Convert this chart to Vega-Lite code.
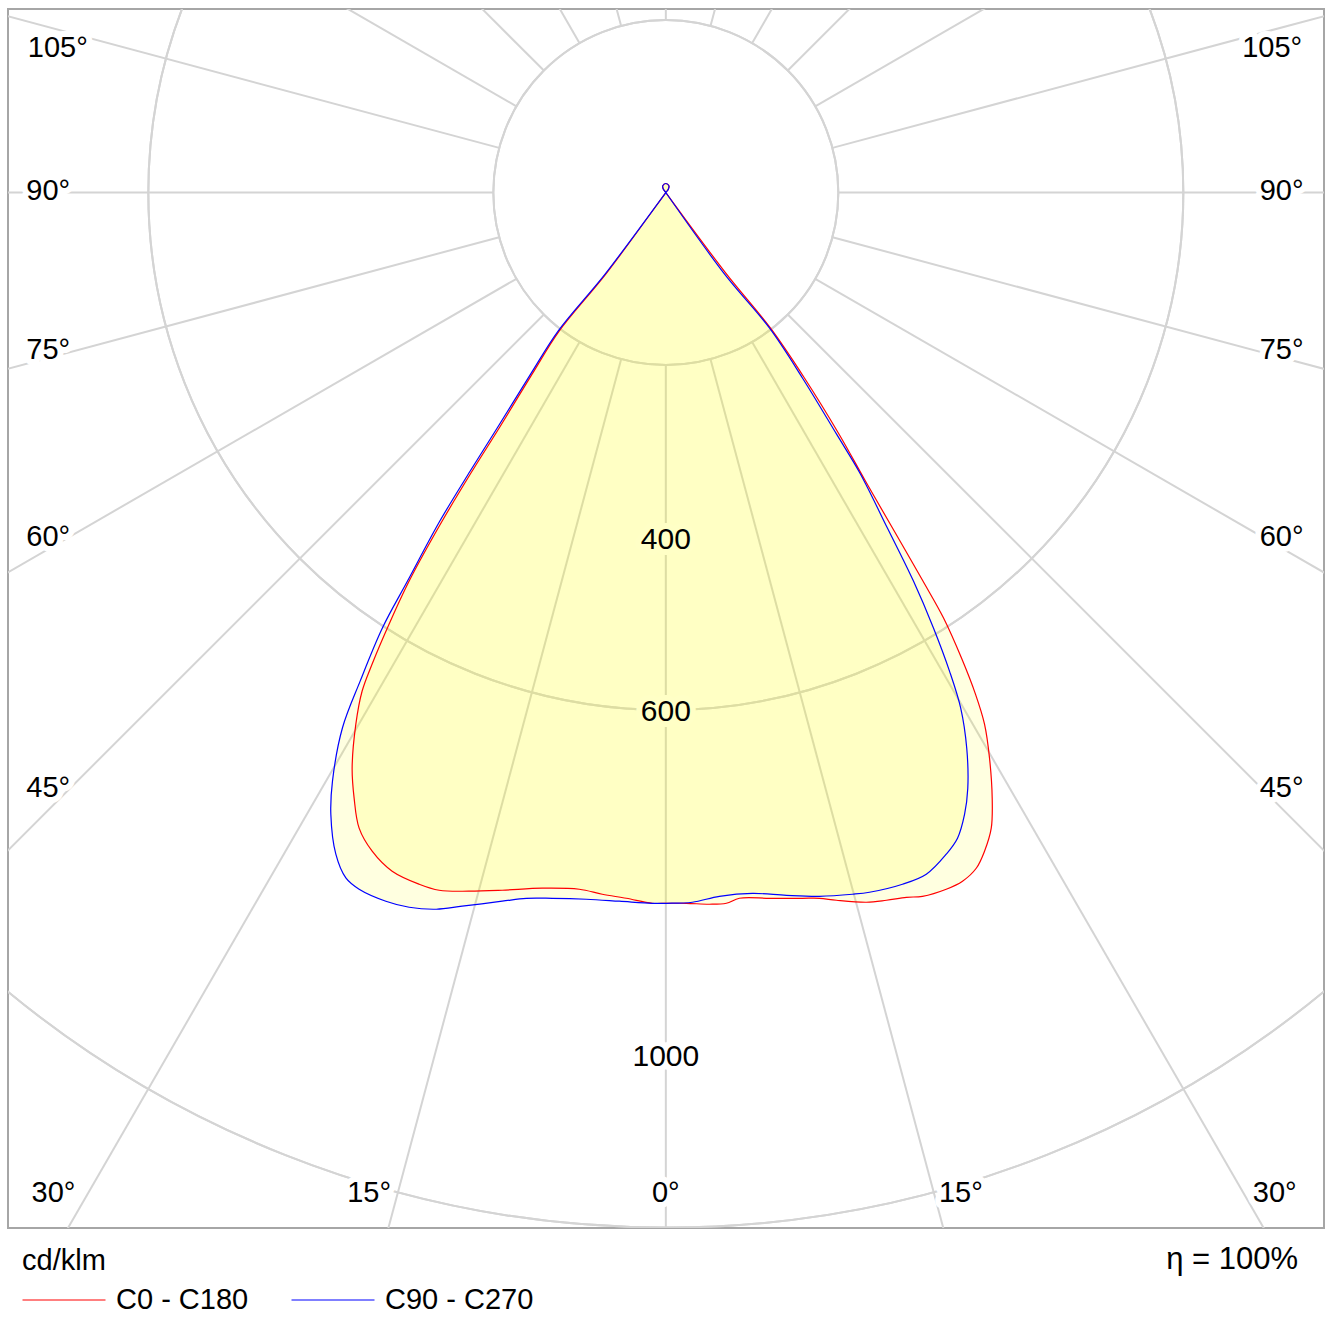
{
  "$schema": "https://vega.github.io/schema/vega-lite/v6.json",
  "width": 1316,
  "height": 1219,
  "autosize": {"type": "none"},
  "padding": {"left": 8, "top": 9, "right": 9, "bottom": 93},
  "background": "white",
  "datasets": {
    "rings": [
      {"r": 200}, {"r": 400}, {"r": 600}, {"r": 800}, {"r": 1000}, {"r": 1200}, {"r": 1400}, {"r": 1600}
    ],
    "spokes": [
      {"x": 0, "y": -200, "x2": 0, "y2": -2000},
      {"x": 51.8, "y": -193.2, "x2": 517.6, "y2": -1931.9},
      {"x": -51.8, "y": -193.2, "x2": -517.6, "y2": -1931.9},
      {"x": 100, "y": -173.2, "x2": 1000, "y2": -1732.1},
      {"x": -100, "y": -173.2, "x2": -1000, "y2": -1732.1},
      {"x": 141.4, "y": -141.4, "x2": 1414.2, "y2": -1414.2},
      {"x": -141.4, "y": -141.4, "x2": -1414.2, "y2": -1414.2},
      {"x": 173.2, "y": -100, "x2": 1732.1, "y2": -1000},
      {"x": -173.2, "y": -100, "x2": -1732.1, "y2": -1000},
      {"x": 193.2, "y": -51.8, "x2": 1931.9, "y2": -517.6},
      {"x": -193.2, "y": -51.8, "x2": -1931.9, "y2": -517.6},
      {"x": 200, "y": 0, "x2": 2000, "y2": 0},
      {"x": -200, "y": 0, "x2": -2000, "y2": 0},
      {"x": 193.2, "y": 51.8, "x2": 1931.9, "y2": 517.6},
      {"x": -193.2, "y": 51.8, "x2": -1931.9, "y2": 517.6},
      {"x": 173.2, "y": 100, "x2": 1732.1, "y2": 1000},
      {"x": -173.2, "y": 100, "x2": -1732.1, "y2": 1000},
      {"x": 141.4, "y": 141.4, "x2": 1414.2, "y2": 1414.2},
      {"x": -141.4, "y": 141.4, "x2": -1414.2, "y2": 1414.2},
      {"x": 100, "y": 173.2, "x2": 1000, "y2": 1732.1},
      {"x": -100, "y": 173.2, "x2": -1000, "y2": 1732.1},
      {"x": 51.8, "y": 193.2, "x2": 517.6, "y2": 1931.9},
      {"x": -51.8, "y": 193.2, "x2": -517.6, "y2": 1931.9},
      {"x": 0, "y": 200, "x2": 0, "y2": 2000}
    ],
    "angleLabels": [
      {"label": "105°", "x": -705, "y": 168},
      {"label": "90°", "x": -716, "y": 2},
      {"label": "75°", "x": -716, "y": -183},
      {"label": "60°", "x": -716, "y": -399},
      {"label": "45°", "x": -716, "y": -691},
      {"label": "30°", "x": -710, "y": -1160},
      {"label": "15°", "x": -344, "y": -1160},
      {"label": "0°", "x": 0, "y": -1160},
      {"label": "15°", "x": 342, "y": -1160},
      {"label": "30°", "x": 706, "y": -1160},
      {"label": "45°", "x": 714, "y": -691},
      {"label": "60°", "x": 714, "y": -399},
      {"label": "75°", "x": 714, "y": -183},
      {"label": "90°", "x": 714, "y": 2},
      {"label": "105°", "x": 703, "y": 168}
    ],
    "innerRingLabels": [
      {"label": "400", "x": 0, "y": -403},
      {"label": "600", "x": 0, "y": -602}
    ],
    "outerRingLabels": [
      {"label": "1000", "x": 0, "y": -1002}
    ],
    "notes": [
      {"label": "η = 100%", "x": 733, "y": -1238}
    ],
    "curves": [
      {"series": "C0 - C180", "i": 0, "x": 0, "y": 0},
      {"series": "C0 - C180", "i": 1, "x": -3, "y": 4},
      {"series": "C0 - C180", "i": 2, "x": -3.5, "y": 8},
      {"series": "C0 - C180", "i": 3, "x": 0, "y": 10.5},
      {"series": "C0 - C180", "i": 4, "x": 3.5, "y": 8},
      {"series": "C0 - C180", "i": 5, "x": 3, "y": 4},
      {"series": "C0 - C180", "i": 6, "x": 0, "y": 0},
      {"series": "C0 - C180", "i": 7, "x": -69.4, "y": -94.3},
      {"series": "C0 - C180", "i": 8, "x": -123.5, "y": -160.4},
      {"series": "C0 - C180", "i": 9, "x": -154.9, "y": -210.3},
      {"series": "C0 - C180", "i": 10, "x": -193.2, "y": -273.0},
      {"series": "C0 - C180", "i": 11, "x": -224.5, "y": -322.9},
      {"series": "C0 - C180", "i": 12, "x": -259.3, "y": -380.9},
      {"series": "C0 - C180", "i": 13, "x": -297.6, "y": -450.5},
      {"series": "C0 - C180", "i": 14, "x": -320.8, "y": -500.3},
      {"series": "C0 - C180", "i": 15, "x": -340.5, "y": -546.7},
      {"series": "C0 - C180", "i": 16, "x": -352.1, "y": -578.0},
      {"series": "C0 - C180", "i": 17, "x": -359.4, "y": -616.4},
      {"series": "C0 - C180", "i": 18, "x": -363.7, "y": -667.4},
      {"series": "C0 - C180", "i": 19, "x": -361.4, "y": -702.2},
      {"series": "C0 - C180", "i": 20, "x": -355.6, "y": -737.0},
      {"series": "C0 - C180", "i": 21, "x": -340.5, "y": -763.7},
      {"series": "C0 - C180", "i": 22, "x": -317.3, "y": -786.9},
      {"series": "C0 - C180", "i": 23, "x": -286.0, "y": -802.0},
      {"series": "C0 - C180", "i": 24, "x": -262.8, "y": -809.0},
      {"series": "C0 - C180", "i": 25, "x": -228.0, "y": -810.1},
      {"series": "C0 - C180", "i": 26, "x": -189.7, "y": -809.0},
      {"series": "C0 - C180", "i": 27, "x": -143.3, "y": -806.6},
      {"series": "C0 - C180", "i": 28, "x": -100.4, "y": -807.8},
      {"series": "C0 - C180", "i": 29, "x": -73.7, "y": -813.6},
      {"series": "C0 - C180", "i": 30, "x": -45.8, "y": -818.3},
      {"series": "C0 - C180", "i": 31, "x": -15.7, "y": -824.1},
      {"series": "C0 - C180", "i": 32, "x": 0.6, "y": -824.1},
      {"series": "C0 - C180", "i": 33, "x": 23.8, "y": -824.1},
      {"series": "C0 - C180", "i": 34, "x": 50.5, "y": -825.2},
      {"series": "C0 - C180", "i": 35, "x": 70.2, "y": -824.1},
      {"series": "C0 - C180", "i": 36, "x": 85.3, "y": -818.3},
      {"series": "C0 - C180", "i": 37, "x": 120.1, "y": -818.3},
      {"series": "C0 - C180", "i": 38, "x": 158.4, "y": -818.3},
      {"series": "C0 - C180", "i": 39, "x": 178.1, "y": -818.3},
      {"series": "C0 - C180", "i": 40, "x": 197.8, "y": -820.6},
      {"series": "C0 - C180", "i": 41, "x": 232.6, "y": -822.9},
      {"series": "C0 - C180", "i": 42, "x": 255.8, "y": -820.6},
      {"series": "C0 - C180", "i": 43, "x": 279.0, "y": -817.2},
      {"series": "C0 - C180", "i": 44, "x": 297.6, "y": -816.0},
      {"series": "C0 - C180", "i": 45, "x": 325.1, "y": -807.8},
      {"series": "C0 - C180", "i": 46, "x": 344.0, "y": -798.5},
      {"series": "C0 - C180", "i": 47, "x": 359.9, "y": -783.5},
      {"series": "C0 - C180", "i": 48, "x": 369.5, "y": -763.7},
      {"series": "C0 - C180", "i": 49, "x": 377.3, "y": -737.0},
      {"series": "C0 - C180", "i": 50, "x": 378.4, "y": -702.2},
      {"series": "C0 - C180", "i": 51, "x": 375.3, "y": -655.8},
      {"series": "C0 - C180", "i": 52, "x": 369.5, "y": -616.4},
      {"series": "C0 - C180", "i": 53, "x": 359.0, "y": -581.6},
      {"series": "C0 - C180", "i": 54, "x": 342.8, "y": -539.8},
      {"series": "C0 - C180", "i": 55, "x": 322.0, "y": -493.4},
      {"series": "C0 - C180", "i": 56, "x": 298.1, "y": -450.5},
      {"series": "C0 - C180", "i": 57, "x": 262.8, "y": -389.0},
      {"series": "C0 - C180", "i": 58, "x": 231.4, "y": -334.5},
      {"series": "C0 - C180", "i": 59, "x": 200.7, "y": -279.9},
      {"series": "C0 - C180", "i": 60, "x": 160.7, "y": -215.0},
      {"series": "C0 - C180", "i": 61, "x": 121.2, "y": -157.0},
      {"series": "C0 - C180", "i": 62, "x": 70.2, "y": -94.3},
      {"series": "C0 - C180", "i": 63, "x": 0, "y": 0},
      {"series": "C90 - C270", "i": 0, "x": 0, "y": 0},
      {"series": "C90 - C270", "i": 1, "x": -3, "y": 4},
      {"series": "C90 - C270", "i": 2, "x": -3.5, "y": 8},
      {"series": "C90 - C270", "i": 3, "x": 0, "y": 10.5},
      {"series": "C90 - C270", "i": 4, "x": 3.5, "y": 8},
      {"series": "C90 - C270", "i": 5, "x": 3, "y": 4},
      {"series": "C90 - C270", "i": 6, "x": 0, "y": 0},
      {"series": "C90 - C270", "i": 7, "x": -70.2, "y": -94.3},
      {"series": "C90 - C270", "i": 8, "x": -124.7, "y": -160.4},
      {"series": "C90 - C270", "i": 9, "x": -156.6, "y": -210.3},
      {"series": "C90 - C270", "i": 10, "x": -195.5, "y": -273.0},
      {"series": "C90 - C270", "i": 11, "x": -226.8, "y": -322.9},
      {"series": "C90 - C270", "i": 12, "x": -262.0, "y": -380.9},
      {"series": "C90 - C270", "i": 13, "x": -299.5, "y": -450.5},
      {"series": "C90 - C270", "i": 14, "x": -328.5, "y": -504.6},
      {"series": "C90 - C270", "i": 15, "x": -354.4, "y": -566.5},
      {"series": "C90 - C270", "i": 16, "x": -374.9, "y": -620.6},
      {"series": "C90 - C270", "i": 17, "x": -386.5, "y": -682.5},
      {"series": "C90 - C270", "i": 18, "x": -388.4, "y": -720.8},
      {"series": "C90 - C270", "i": 19, "x": -382.6, "y": -767.2},
      {"series": "C90 - C270", "i": 20, "x": -371.0, "y": -794.7},
      {"series": "C90 - C270", "i": 21, "x": -355.6, "y": -807.8},
      {"series": "C90 - C270", "i": 22, "x": -324.6, "y": -821.7},
      {"series": "C90 - C270", "i": 23, "x": -297.6, "y": -828.7},
      {"series": "C90 - C270", "i": 24, "x": -266.2, "y": -831.0},
      {"series": "C90 - C270", "i": 25, "x": -236.1, "y": -827.5},
      {"series": "C90 - C270", "i": 26, "x": -189.7, "y": -821.7},
      {"series": "C90 - C270", "i": 27, "x": -161.8, "y": -818.3},
      {"series": "C90 - C270", "i": 28, "x": -131.7, "y": -818.3},
      {"series": "C90 - C270", "i": 29, "x": -92.2, "y": -819.4},
      {"series": "C90 - C270", "i": 30, "x": -53.9, "y": -821.7},
      {"series": "C90 - C270", "i": 31, "x": -15.7, "y": -824.1},
      {"series": "C90 - C270", "i": 32, "x": 0.6, "y": -824.1},
      {"series": "C90 - C270", "i": 33, "x": 30.7, "y": -822.9},
      {"series": "C90 - C270", "i": 34, "x": 62.1, "y": -816.0},
      {"series": "C90 - C270", "i": 35, "x": 100.4, "y": -812.6},
      {"series": "C90 - C270", "i": 36, "x": 139.8, "y": -814.9},
      {"series": "C90 - C270", "i": 37, "x": 178.1, "y": -816.0},
      {"series": "C90 - C270", "i": 38, "x": 216.4, "y": -813.6},
      {"series": "C90 - C270", "i": 39, "x": 236.1, "y": -811.3},
      {"series": "C90 - C270", "i": 40, "x": 274.4, "y": -802.0},
      {"series": "C90 - C270", "i": 41, "x": 302.0, "y": -790.4},
      {"series": "C90 - C270", "i": 42, "x": 325.1, "y": -767.2},
      {"series": "C90 - C270", "i": 43, "x": 338.2, "y": -748.6},
      {"series": "C90 - C270", "i": 44, "x": 346.4, "y": -720.8},
      {"series": "C90 - C270", "i": 45, "x": 350.1, "y": -690.8},
      {"series": "C90 - C270", "i": 46, "x": 348.9, "y": -644.4},
      {"series": "C90 - C270", "i": 47, "x": 341.9, "y": -597.8},
      {"series": "C90 - C270", "i": 48, "x": 328.9, "y": -554.9},
      {"series": "C90 - C270", "i": 49, "x": 310.3, "y": -504.9},
      {"series": "C90 - C270", "i": 50, "x": 287.1, "y": -450.5},
      {"series": "C90 - C270", "i": 51, "x": 256.9, "y": -389.0},
      {"series": "C90 - C270", "i": 52, "x": 225.6, "y": -326.3},
      {"series": "C90 - C270", "i": 53, "x": 197.8, "y": -279.9},
      {"series": "C90 - C270", "i": 54, "x": 158.4, "y": -215.0},
      {"series": "C90 - C270", "i": 55, "x": 120.1, "y": -157.0},
      {"series": "C90 - C270", "i": 56, "x": 67.9, "y": -94.3},
      {"series": "C90 - C270", "i": 57, "x": 0, "y": 0}
    ]
  },
  "layer": [
    {
      "data": {"name": "rings"},
      "mark": {"type": "arc", "filled": false, "stroke": "#d4d4d4", "strokeWidth": 2, "theta": 0, "theta2": 6.2832, "clip": true},
      "encoding": {
        "x": {"datum": 0, "type": "quantitative", "scale": {"domain": [-762.7, 763.1], "nice": false, "zero": false}, "axis": null},
        "y": {"datum": 0, "type": "quantitative", "scale": {"domain": [-1200.6, 212.8], "nice": false, "zero": false}, "axis": null},
        "radius": {"field": "r", "type": "quantitative", "scale": {"type": "linear", "domain": [0, 1600], "range": [0, 1380], "zero": true}, "legend": null}
      }
    },
    {
      "data": {"name": "spokes"},
      "mark": {"type": "rule", "stroke": "#d4d4d4", "strokeWidth": 2, "clip": true},
      "encoding": {
        "x": {"field": "x", "type": "quantitative", "axis": null},
        "y": {"field": "y", "type": "quantitative", "axis": null},
        "x2": {"field": "x2"},
        "y2": {"field": "y2"}
      }
    },
    {
      "data": {"name": "curves"},
      "mark": {"type": "line", "interpolate": "catmull-rom", "fill": "#ffff00", "fillOpacity": 0.12, "strokeOpacity": 0, "clip": true},
      "encoding": {
        "x": {"field": "x", "type": "quantitative", "axis": null},
        "y": {"field": "y", "type": "quantitative", "axis": null},
        "detail": {"field": "series", "type": "nominal"},
        "order": {"field": "i", "type": "quantitative"}
      }
    },
    {
      "data": {"name": "angleLabels"},
      "mark": {"type": "text", "font": "Liberation Sans", "fontSize": 29, "stroke": "white", "strokeWidth": 12, "strokeJoin": "round", "fill": "white", "baseline": "middle", "align": "center"},
      "encoding": {
        "x": {"field": "x", "type": "quantitative", "axis": null},
        "y": {"field": "y", "type": "quantitative", "axis": null},
        "text": {"field": "label"}
      }
    },
    {
      "data": {"name": "outerRingLabels"},
      "mark": {"type": "text", "font": "Liberation Sans", "fontSize": 30, "stroke": "white", "strokeWidth": 12, "strokeJoin": "round", "fill": "white", "baseline": "middle", "align": "center"},
      "encoding": {
        "x": {"field": "x", "type": "quantitative", "axis": null},
        "y": {"field": "y", "type": "quantitative", "axis": null},
        "text": {"field": "label"}
      }
    },
    {
      "data": {"name": "innerRingLabels"},
      "mark": {"type": "text", "font": "Liberation Sans", "fontSize": 30, "stroke": "#ffffc6", "strokeWidth": 12, "strokeJoin": "round", "fill": "#ffffc6", "baseline": "middle", "align": "center"},
      "encoding": {
        "x": {"field": "x", "type": "quantitative", "axis": null},
        "y": {"field": "y", "type": "quantitative", "axis": null},
        "text": {"field": "label"}
      }
    },
    {
      "data": {"name": "angleLabels"},
      "mark": {"type": "text", "font": "Liberation Sans", "fontSize": 29, "color": "#000000", "baseline": "middle", "align": "center"},
      "encoding": {
        "x": {"field": "x", "type": "quantitative", "axis": null},
        "y": {"field": "y", "type": "quantitative", "axis": null},
        "text": {"field": "label"}
      }
    },
    {
      "data": {"name": "innerRingLabels"},
      "mark": {"type": "text", "font": "Liberation Sans", "fontSize": 30, "color": "#000000", "baseline": "middle", "align": "center"},
      "encoding": {
        "x": {"field": "x", "type": "quantitative", "axis": null},
        "y": {"field": "y", "type": "quantitative", "axis": null},
        "text": {"field": "label"}
      }
    },
    {
      "data": {"name": "outerRingLabels"},
      "mark": {"type": "text", "font": "Liberation Sans", "fontSize": 30, "color": "#000000", "baseline": "middle", "align": "center"},
      "encoding": {
        "x": {"field": "x", "type": "quantitative", "axis": null},
        "y": {"field": "y", "type": "quantitative", "axis": null},
        "text": {"field": "label"}
      }
    },
    {
      "data": {"name": "notes"},
      "mark": {"type": "text", "font": "Liberation Sans", "fontSize": 31, "color": "#000000", "baseline": "middle", "align": "right", "clip": false},
      "encoding": {
        "x": {"field": "x", "type": "quantitative", "axis": null},
        "y": {"field": "y", "type": "quantitative", "axis": null},
        "text": {"field": "label"}
      }
    },
    {
      "data": {"name": "curves"},
      "mark": {"type": "line", "interpolate": "catmull-rom", "strokeWidth": 1.2, "clip": true},
      "encoding": {
        "x": {"field": "x", "type": "quantitative", "axis": null},
        "y": {"field": "y", "type": "quantitative", "axis": null},
        "order": {"field": "i", "type": "quantitative"},
        "color": {
          "field": "series",
          "type": "nominal",
          "scale": {"domain": ["C0 - C180", "C90 - C270"], "range": ["#ff0000", "#0000ff"]},
          "legend": {
            "orient": "none",
            "legendX": 14,
            "legendY": 1238,
            "direction": "horizontal",
            "title": "cd/klm",
            "titleFont": "Liberation Sans",
            "titleFontSize": 29,
            "titleFontWeight": "normal",
            "titleColor": "#000000",
            "titlePadding": -18,
            "labelFont": "Liberation Sans",
            "labelFontSize": 29,
            "labelColor": "#000000",
            "labelOffset": 10,
            "symbolType": "stroke",
            "symbolSize": 6889,
            "symbolStrokeWidth": 1,
            "columnPadding": 40
          }
        }
      }
    }
  ],
  "config": {
    "view": {"stroke": "#a6a6a6", "strokeWidth": 2},
    "font": "Liberation Sans"
  }
}
